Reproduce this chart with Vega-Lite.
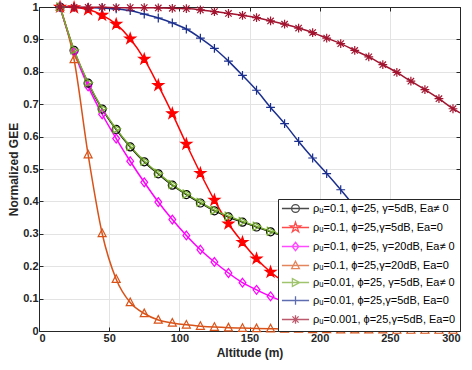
{
"$schema":"https://vega.github.io/schema/vega-lite/v6.json",
"width":421,"height":324,"autosize":"none",
"padding":{"left":39,"top":7,"right":12,"bottom":39},
"config":{
 "view":{"stroke":"#262626"},
 "axis":{"labelFont":"Liberation Sans","labelFontWeight":"bold","labelFontSize":11,"labelColor":"#262626","titleFont":"Liberation Sans","titleFontWeight":"bold","titleFontSize":12,"titleColor":"#262626","domainColor":"#262626","tickColor":"#262626","tickSize":-4,"gridColor":"#e3e3e3","gridWidth":1,"domainWidth":1,"labelPadding":5},
 "legend":{"orient":"bottom-right","offset":0,"fillColor":"white","strokeColor":"#262626","padding":4,"labelFont":"Liberation Sans","labelFontSize":11,"labelColor":"#000000","symbolSize":60,"symbolStrokeWidth":1.3,"rowPadding":4,"symbolOffset":8,"labelOffset":12}
},
"data":{"values":[
{"s":"a","x":15,"y":1.0},{"s":"a","x":25,"y":0.866},{"s":"a","x":35,"y":0.765},{"s":"a","x":45,"y":0.685},{"s":"a","x":55,"y":0.622},{"s":"a","x":65,"y":0.568},{"s":"a","x":75,"y":0.522},{"s":"a","x":85,"y":0.485},{"s":"a","x":95,"y":0.450},{"s":"a","x":105,"y":0.421},{"s":"a","x":115,"y":0.395},{"s":"a","x":125,"y":0.371},{"s":"a","x":135,"y":0.352},{"s":"a","x":145,"y":0.336},{"s":"a","x":155,"y":0.321},{"s":"a","x":165,"y":0.306},{"s":"a","x":175,"y":0.292},{"s":"a","x":185,"y":0.279},{"s":"a","x":195,"y":0.267},{"s":"a","x":205,"y":0.256},{"s":"a","x":215,"y":0.245},{"s":"a","x":225,"y":0.235},{"s":"a","x":235,"y":0.226},{"s":"a","x":245,"y":0.217},{"s":"a","x":255,"y":0.209},{"s":"a","x":265,"y":0.201},{"s":"a","x":275,"y":0.194},{"s":"a","x":285,"y":0.187},{"s":"a","x":295,"y":0.180},{"s":"a","x":300,"y":0.177},
{"s":"b","x":15,"y":1.0},{"s":"b","x":25,"y":0.998},{"s":"b","x":35,"y":0.992},{"s":"b","x":45,"y":0.975},{"s":"b","x":55,"y":0.947},{"s":"b","x":65,"y":0.902},{"s":"b","x":75,"y":0.839},{"s":"b","x":85,"y":0.758},{"s":"b","x":95,"y":0.671},{"s":"b","x":105,"y":0.577},{"s":"b","x":115,"y":0.487},{"s":"b","x":125,"y":0.404},{"s":"b","x":135,"y":0.331},{"s":"b","x":145,"y":0.274},{"s":"b","x":155,"y":0.223},{"s":"b","x":165,"y":0.182},{"s":"b","x":175,"y":0.150},{"s":"b","x":185,"y":0.124},{"s":"b","x":195,"y":0.103},{"s":"b","x":205,"y":0.086},{"s":"b","x":215,"y":0.072},{"s":"b","x":225,"y":0.061},{"s":"b","x":235,"y":0.052},{"s":"b","x":245,"y":0.045},{"s":"b","x":255,"y":0.039},{"s":"b","x":265,"y":0.034},{"s":"b","x":275,"y":0.030},{"s":"b","x":285,"y":0.026},{"s":"b","x":295,"y":0.023},{"s":"b","x":300,"y":0.022},
{"s":"c","x":15,"y":1.0},{"s":"c","x":25,"y":0.862},{"s":"c","x":35,"y":0.755},{"s":"c","x":45,"y":0.669},{"s":"c","x":55,"y":0.594},{"s":"c","x":65,"y":0.524},{"s":"c","x":75,"y":0.459},{"s":"c","x":85,"y":0.398},{"s":"c","x":95,"y":0.344},{"s":"c","x":105,"y":0.295},{"s":"c","x":115,"y":0.251},{"s":"c","x":125,"y":0.213},{"s":"c","x":135,"y":0.179},{"s":"c","x":145,"y":0.149},{"s":"c","x":155,"y":0.127},{"s":"c","x":165,"y":0.107},{"s":"c","x":175,"y":0.090},{"s":"c","x":185,"y":0.076},{"s":"c","x":195,"y":0.064},{"s":"c","x":205,"y":0.054},{"s":"c","x":215,"y":0.046},{"s":"c","x":225,"y":0.039},{"s":"c","x":235,"y":0.033},{"s":"c","x":245,"y":0.028},{"s":"c","x":255,"y":0.024},{"s":"c","x":265,"y":0.021},{"s":"c","x":275,"y":0.018},{"s":"c","x":285,"y":0.016},{"s":"c","x":295,"y":0.014},{"s":"c","x":300,"y":0.013},
{"s":"d","x":15,"y":1.0},{"s":"d","x":25,"y":0.838},{"s":"d","x":35,"y":0.544},{"s":"d","x":45,"y":0.301},{"s":"d","x":55,"y":0.160},{"s":"d","x":65,"y":0.088},{"s":"d","x":75,"y":0.054},{"s":"d","x":85,"y":0.034},{"s":"d","x":95,"y":0.025},{"s":"d","x":105,"y":0.019},{"s":"d","x":115,"y":0.015},{"s":"d","x":125,"y":0.012},{"s":"d","x":135,"y":0.010},{"s":"d","x":145,"y":0.009},{"s":"d","x":155,"y":0.008},{"s":"d","x":165,"y":0.007},{"s":"d","x":175,"y":0.006},{"s":"d","x":185,"y":0.006},{"s":"d","x":195,"y":0.005},{"s":"d","x":205,"y":0.005},{"s":"d","x":215,"y":0.004},{"s":"d","x":225,"y":0.004},{"s":"d","x":235,"y":0.004},{"s":"d","x":245,"y":0.004},{"s":"d","x":255,"y":0.003},{"s":"d","x":265,"y":0.003},{"s":"d","x":275,"y":0.003},{"s":"d","x":285,"y":0.003},{"s":"d","x":295,"y":0.003},{"s":"d","x":300,"y":0.003},
{"s":"e","x":15,"y":1.0},{"s":"e","x":25,"y":0.868},{"s":"e","x":35,"y":0.767},{"s":"e","x":45,"y":0.687},{"s":"e","x":55,"y":0.624},{"s":"e","x":65,"y":0.570},{"s":"e","x":75,"y":0.524},{"s":"e","x":85,"y":0.487},{"s":"e","x":95,"y":0.452},{"s":"e","x":105,"y":0.423},{"s":"e","x":115,"y":0.397},{"s":"e","x":125,"y":0.373},{"s":"e","x":135,"y":0.354},{"s":"e","x":145,"y":0.338},{"s":"e","x":155,"y":0.323},{"s":"e","x":165,"y":0.308},{"s":"e","x":175,"y":0.294},{"s":"e","x":185,"y":0.281},{"s":"e","x":195,"y":0.269},{"s":"e","x":205,"y":0.258},{"s":"e","x":215,"y":0.247},{"s":"e","x":225,"y":0.237},{"s":"e","x":235,"y":0.228},{"s":"e","x":245,"y":0.219},{"s":"e","x":255,"y":0.211},{"s":"e","x":265,"y":0.203},{"s":"e","x":275,"y":0.196},{"s":"e","x":285,"y":0.189},{"s":"e","x":295,"y":0.182},{"s":"e","x":300,"y":0.179},
{"s":"f","x":15,"y":1.0},{"s":"f","x":25,"y":0.999},{"s":"f","x":35,"y":0.998},{"s":"f","x":45,"y":0.997},{"s":"f","x":55,"y":0.994},{"s":"f","x":65,"y":0.989},{"s":"f","x":75,"y":0.978},{"s":"f","x":85,"y":0.966},{"s":"f","x":95,"y":0.951},{"s":"f","x":105,"y":0.932},{"s":"f","x":115,"y":0.904},{"s":"f","x":125,"y":0.872},{"s":"f","x":135,"y":0.833},{"s":"f","x":145,"y":0.789},{"s":"f","x":155,"y":0.743},{"s":"f","x":165,"y":0.690},{"s":"f","x":175,"y":0.640},{"s":"f","x":185,"y":0.585},{"s":"f","x":195,"y":0.534},{"s":"f","x":205,"y":0.486},{"s":"f","x":215,"y":0.436},{"s":"f","x":225,"y":0.384},{"s":"f","x":235,"y":0.332},{"s":"f","x":245,"y":0.280},{"s":"f","x":255,"y":0.230},{"s":"f","x":265,"y":0.180},{"s":"f","x":275,"y":0.135},{"s":"f","x":285,"y":0.095},{"s":"f","x":295,"y":0.060},{"s":"f","x":300,"y":0.045},
{"s":"g","x":15,"y":1.0},{"s":"g","x":25,"y":0.999},{"s":"g","x":35,"y":0.999},{"s":"g","x":45,"y":0.999},{"s":"g","x":55,"y":0.998},{"s":"g","x":65,"y":0.998},{"s":"g","x":75,"y":0.998},{"s":"g","x":85,"y":0.997},{"s":"g","x":95,"y":0.996},{"s":"g","x":105,"y":0.995},{"s":"g","x":115,"y":0.991},{"s":"g","x":125,"y":0.986},{"s":"g","x":135,"y":0.980},{"s":"g","x":145,"y":0.974},{"s":"g","x":155,"y":0.967},{"s":"g","x":165,"y":0.957},{"s":"g","x":175,"y":0.947},{"s":"g","x":185,"y":0.935},{"s":"g","x":195,"y":0.921},{"s":"g","x":205,"y":0.904},{"s":"g","x":215,"y":0.887},{"s":"g","x":225,"y":0.866},{"s":"g","x":235,"y":0.846},{"s":"g","x":245,"y":0.822},{"s":"g","x":255,"y":0.798},{"s":"g","x":265,"y":0.771},{"s":"g","x":275,"y":0.745},{"s":"g","x":285,"y":0.717},{"s":"g","x":295,"y":0.686},{"s":"g","x":300,"y":0.673}
]},
"layer":[
 {"mark":{"type":"line","interpolate":"monotone","strokeWidth":1.5},
  "encoding":{
   "x":{"field":"x","type":"quantitative","scale":{"domain":[0,300],"nice":false},"title":"Altitude (m)","axis":{"orient":"bottom","values":[0,50,100,150,200,250,300],"titlePadding":4}},
   "y":{"field":"y","type":"quantitative","scale":{"domain":[0,1],"nice":false},"title":"Normalized GEE","axis":{"orient":"left","values":[0,0.1,0.2,0.3,0.4,0.5,0.6,0.7,0.8,0.9,1],"format":".1~f","titlePadding":2}},
   "stroke":{"field":"s","type":"nominal","scale":{"domain":["a","b","c","d","e","f","g"],"range":["#000000","#FF0000","#FF00FF","#D95319","#77AC30","#1B2F8F","#A2142F"]},"legend":null}
  }},
 {"transform":[{"filter":"datum.x < 300"}],
  "mark":{"type":"point","filled":false,"strokeWidth":1.2,"size":64,"opacity":1},
  "encoding":{
   "x":{"field":"x","type":"quantitative","axis":{"orient":"top","values":[0,50,100,150,200,250,300],"labels":false,"grid":false,"title":null}},
   "y":{"field":"y","type":"quantitative","axis":{"orient":"right","values":[0,0.1,0.2,0.3,0.4,0.5,0.6,0.7,0.8,0.9,1],"labels":false,"grid":false,"title":null}},
   "stroke":{"field":"s","type":"nominal","scale":{"domain":["a","b","c","d","e","f","g"],"range":["#000000","#FF0000","#FF00FF","#D95319","#77AC30","#1B2F8F","#A2142F"]},"legend":null},
   "shape":{"field":"s","type":"nominal","scale":{"domain":["a","b","c","d","e","f","g"],"range":["circle","M0,-1.4L0.315,-0.433L1.331,-0.433L0.508,0.165L0.823,1.133L0,0.535L-0.823,1.133L-0.508,0.165L-1.331,-0.433L-0.315,-0.433Z","M0,-1.1L0.85,0L0,1.1L-0.85,0Z","M0,-1.1L1,0.8L-1,0.8Z","M1.1,0L-0.8,-1L-0.8,1Z","M-1.1,0H1.1M0,-1.1V1.1","M-1.1,0H1.1M0,-1.1V1.1M-0.8,-0.8L0.8,0.8M-0.8,0.8L0.8,-0.8"]},"legend":null},
   "fill":{"condition":{"test":"datum.s=='b'","value":"#FF0000"},"value":"transparent"}
  }},
 {"transform":[{"filter":"datum.x < 0"}],
  "mark":{"type":"point","filled":false,"strokeWidth":1.3,"size":60},
  "encoding":{
   "x":{"field":"x","type":"quantitative","axis":null},
   "y":{"field":"y","type":"quantitative","axis":null},
   "stroke":{"field":"s","type":"nominal","scale":{"domain":["a","b","c","d","e","f","g"],"range":["#000000","#FF0000","#FF00FF","#D95319","#77AC30","#1B2F8F","#A2142F"]},
    "legend":{"title":null,"labelExpr":"datum.label=='a'?'ρᵤ=0.1, ϕ=25, γ=5dB, Ea≠ 0':datum.label=='b'?'ρᵤ=0.1, ϕ=25,γ=5dB, Ea=0':datum.label=='c'?'ρᵤ=0.1, ϕ=25, γ=20dB, Ea≠ 0':datum.label=='d'?'ρᵤ=0.1, ϕ=25,γ=20dB, Ea=0':datum.label=='e'?'ρᵤ=0.01, ϕ=25, γ=5dB, Ea≠ 0':datum.label=='f'?'ρᵤ=0.01, ϕ=25,γ=5dB, Ea=0':'ρᵤ=0.001, ϕ=25,γ=5dB, Ea=0'"}},
   "shape":{"field":"s","type":"nominal","scale":{"domain":["a","b","c","d","e","f","g"],"range":["M-3.5,0H3.5M-1,0A1,1 0 1,0 1,0A1,1 0 1,0 -1,0","M-3.5,0H3.5M0,-1.4L0.315,-0.433L1.331,-0.433L0.508,0.165L0.823,1.133L0,0.535L-0.823,1.133L-0.508,0.165L-1.331,-0.433L-0.315,-0.433Z","M-3.5,0H3.5M0,-1.1L0.85,0L0,1.1L-0.85,0Z","M-3.5,0H3.5M0,-1.1L1,0.8L-1,0.8Z","M-3.5,0H3.5M1.1,0L-0.8,-1L-0.8,1Z","M-3.5,0H3.5M0,-1.1V1.1","M-3.5,0H3.5M0,-1.1V1.1M-0.8,-0.8L0.8,0.8M-0.8,0.8L0.8,-0.8"]},
    "legend":{"title":null,"labelExpr":"datum.label=='a'?'ρᵤ=0.1, ϕ=25, γ=5dB, Ea≠ 0':datum.label=='b'?'ρᵤ=0.1, ϕ=25,γ=5dB, Ea=0':datum.label=='c'?'ρᵤ=0.1, ϕ=25, γ=20dB, Ea≠ 0':datum.label=='d'?'ρᵤ=0.1, ϕ=25,γ=20dB, Ea=0':datum.label=='e'?'ρᵤ=0.01, ϕ=25, γ=5dB, Ea≠ 0':datum.label=='f'?'ρᵤ=0.01, ϕ=25,γ=5dB, Ea=0':'ρᵤ=0.001, ϕ=25,γ=5dB, Ea=0'"}}
  }}
],
"resolve":{"scale":{"stroke":"independent","shape":"independent"},"axis":{"x":"independent","y":"independent"}}
}
